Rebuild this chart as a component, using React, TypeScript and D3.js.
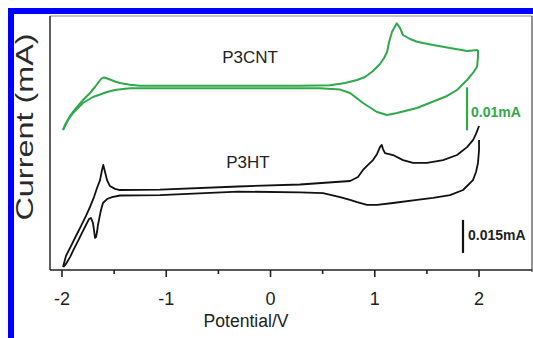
import React from "react";
import * as d3 from "d3";

// Potential (V) and current (µA)
const p3cntForwardV = [-1.99, -1.971, -1.923, -1.856, -1.789, -1.731, -1.683, -1.655, -1.626, -1.602, -1.578, -1.54, -1.492, -1.444, -1.348, -1.252, -0.676, -0.101, 0.283, 0.571, 0.715, 0.83, 0.906, 0.983, 1.05, 1.089, 1.118, 1.137, 1.165, 1.211, 1.242, 1.271, 1.338, 1.405, 1.559, 1.722, 1.885, 1.99];
const p3cntForwardI = [-10, -8.84, -6.74, -4.65, -2.79, -1.4, 0, 0.93, 1.86, 2.21, 2.09, 1.74, 1.28, 0.93, 0.5, 0.28, 0.28, 0.28, 0.28, 0.4, 0.93, 1.63, 2.33, 3.72, 5.35, 6.74, 8.14, 10.47, 12.79, 14.81, 13.72, 12.09, 11.16, 10.53, 9.77, 9.07, 8.37, 8.6];
const p3cntReverseV = [1.99, 1.99, 1.981, 1.942, 1.885, 1.789, 1.693, 1.597, 1.405, 1.213, 1.118, 1.022, 0.887, 0.763, 0.667, 0.475, 0.283, -0.676, -1.348, -1.415, -1.492, -1.568, -1.635, -1.703, -1.799, -1.894, -1.942, -1.99];
const p3cntReverseI = [8.6, 6.98, 4.72, 3.26, 1.63, -0.7, -2.09, -3.02, -4.88, -6.05, -6.51, -5.81, -3.72, -1.4, -0.6, -0.3, -0.28, -0.28, -0.3, -0.47, -0.7, -1.16, -1.74, -2.33, -3.72, -6.05, -7.67, -10];

const p3htForwardV = [-1.99, -1.962, -1.914, -1.866, -1.818, -1.77, -1.731, -1.693, -1.664, -1.635, -1.616, -1.604, -1.587, -1.568, -1.54, -1.492, -1.444, -1.06, -0.312, 0.283, 0.763, 0.839, 0.887, 0.935, 0.983, 1.022, 1.05, 1.067, 1.079, 1.098, 1.175, 1.271, 1.367, 1.501, 1.655, 1.789, 1.885, 1.942, 1.971, 2.0];
const p3htForwardI = [-35, -30, -25.5, -20.9, -16.4, -11.8, -7.7, -3.2, 0.9, 4.5, 9.1, 11.4, 8.2, 4.5, 1.8, 0.5, 0, 0.2, 1.6, 2.5, 4.1, 5.9, 9.1, 11.4, 13.6, 16.4, 19.5, 20.5, 18.6, 16.8, 15.9, 13.6, 12.3, 12.3, 13.6, 15.9, 19.5, 22.7, 25.5, 29.1];
const p3htReverseV = [2.0, 2.0, 1.99, 1.971, 1.942, 1.847, 1.722, 1.559, 1.405, 1.175, 1.022, 0.926, 0.83, 0.763, 0.667, 0.504, 0.283, -0.312, -1.06, -1.444, -1.52, -1.568, -1.607, -1.626, -1.64, -1.655, -1.664, -1.674, -1.683, -1.693, -1.703, -1.722, -1.741, -1.77, -1.808, -1.847, -1.885, -1.923, -1.962, -1.986];
const p3htReverseI = [22.7, 18.2, 12.3, 8.2, 4.5, 0, -2.3, -3.6, -4.5, -5.9, -6.8, -6.8, -5.5, -4.5, -3.2, -1.4, -1.1, -0.7, -2.3, -2.5, -3.2, -4.1, -5.9, -9.1, -12.3, -15.9, -19.1, -21.4, -21.8, -18.2, -15, -12.7, -13.2, -15.9, -19.5, -23.2, -26.8, -30.5, -33.6, -35];

const xMajorTicks = [-2, -1, 0, 1, 2];
const xMinorTicks = [-1.5, -0.5, 0.5, 1.5];
const seriesLabels = ["P3CNT", "P3HT"];
const scaleBarLabels = ["0.01mA", "0.015mA"];
const scaleBarTopI = [-0.07, -13.6]; // µA, on each series' own scale
const scaleBarLenI = [10, 15]; // µA
const xAxisTitle = "Potential/V";
const yAxisTitle = "Current (mA)";

const GREEN = "#2eaa4a";
const FONT = "'Liberation Sans', Arial, sans-serif";

export default function App() {
  const left = 50, right = 532, top = 16, bottom = 270;
  const x = d3.scaleLinear().domain([-2.115, 2.508]).range([left, right]);
  const yG = d3.scaleLinear().domain([-42.56, 16.51]).range([bottom, top]);
  const yB = d3.scaleLinear().domain([-36.36, 79.09]).range([bottom, top]);

  const zip = (v: number[], i: number[]) => v.map((d, k) => [d, i[k]] as [number, number]);
  const lineG = d3.line<[number, number]>().x((d) => x(d[0])).y((d) => yG(d[1]));
  const lineB = d3.line<[number, number]>().x((d) => x(d[0])).y((d) => yB(d[1]));

  return (
    <svg width={533} height={338} style={{ position: "absolute", left: 0, top: 0, background: "#fff" }} fontFamily={FONT}>
      <rect x={0} y={0} width={533} height={338} fill="#fff" />
      <rect x={11} y={11} width={600} height={400} fill="none" stroke="#0000ff" strokeWidth={6} />

      {/* frame */}
      <line x1={left} x2={right} y1={top} y2={top} stroke="#8a8a8a" strokeWidth={1} />
      <line x1={right} x2={right} y1={top} y2={bottom + 2} stroke="#555" strokeWidth={1.3} />
      <line x1={left} x2={left} y1={top} y2={bottom} stroke="#444" strokeWidth={1.7} />
      <line x1={left} x2={right} y1={bottom} y2={bottom} stroke="#222" strokeWidth={1.6} />

      {xMajorTicks.map((t) => (
        <g key={"M" + t}>
          <line x1={x(t)} x2={x(t)} y1={bottom} y2={bottom + 7} stroke="#222" strokeWidth={1.6} />
          <text x={x(t)} y={305} textAnchor="middle" fontSize={18} fill="#222">{t}</text>
        </g>
      ))}
      {xMinorTicks.map((t) => (
        <line key={"m" + t} x1={x(t)} x2={x(t)} y1={bottom} y2={bottom + 4} stroke="#222" strokeWidth={1.6} />
      ))}

      <text x={246} y={327} textAnchor="middle" fontSize={18} fill="#222" textLength={85} lengthAdjust="spacingAndGlyphs">{xAxisTitle}</text>
      <text transform="translate(33,127) rotate(-90)" textAnchor="middle" fontSize={23} fill="#2a2a2a" textLength={187} lengthAdjust="spacingAndGlyphs">{yAxisTitle}</text>

      {/* curves */}
      <path d={lineG(zip(p3cntForwardV, p3cntForwardI)) || ""} fill="none" stroke={GREEN} strokeWidth={2} strokeLinejoin="round" />
      <path d={lineG(zip(p3cntReverseV, p3cntReverseI)) || ""} fill="none" stroke={GREEN} strokeWidth={2} strokeLinejoin="round" />
      <path d={lineB(zip(p3htForwardV, p3htForwardI)) || ""} fill="none" stroke="#111" strokeWidth={1.8} strokeLinejoin="round" />
      <path d={lineB(zip(p3htReverseV, p3htReverseI)) || ""} fill="none" stroke="#111" strokeWidth={1.8} strokeLinejoin="round" />

      <text x={250} y={63} textAnchor="middle" fontSize={17} fill="#222">{seriesLabels[0]}</text>
      <text x={248} y={167.5} textAnchor="middle" fontSize={17} fill="#222">{seriesLabels[1]}</text>

      {/* scale bars */}
      <line x1={467} x2={467} y1={yG(scaleBarTopI[0])} y2={yG(scaleBarTopI[0] - scaleBarLenI[0])} stroke={GREEN} strokeWidth={2.2} />
      <text x={471} y={116.5} fontSize={14} fontWeight="bold" fill={GREEN}>{scaleBarLabels[0]}</text>
      <line x1={463} x2={463} y1={yB(scaleBarTopI[1])} y2={yB(scaleBarTopI[1] - scaleBarLenI[1])} stroke="#111" strokeWidth={2.2} />
      <text x={468} y={240} fontSize={14} fontWeight="bold" fill="#222">{scaleBarLabels[1]}</text>
    </svg>
  );
}
